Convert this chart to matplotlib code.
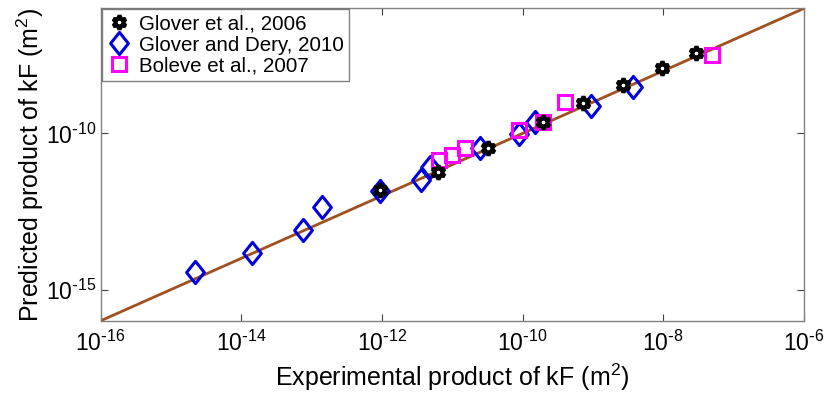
import numpy as np
import matplotlib
matplotlib.use('Agg')
import matplotlib.pyplot as plt
from matplotlib.path import Path
from matplotlib.ticker import FixedLocator, FuncFormatter, NullLocator

plt.rcParams['font.family'] = ['Liberation Sans', 'DejaVu Sans']
plt.rcParams['mathtext.default'] = 'regular'
plt.rcParams['axes.unicode_minus'] = False

# Glover et al., 2006
glover06_x = [9.3e-13, 6.3e-12, 3.2e-11, 1.95e-10, 7.2e-10, 2.7e-9, 9.5e-9, 2.95e-8]
glover06_y = [1.55e-12, 5.9e-12, 3.5e-11, 2.3e-10, 9.1e-10, 3.5e-9, 1.2e-8, 3.8e-8]

# Glover and Dery, 2010
dery_x = [2.2e-15, 1.4e-14, 7.6e-14, 1.4e-13, 9.3e-13, 3.6e-12, 4.8e-12,
          2.5e-11, 8.9e-11, 1.5e-10, 9.5e-10, 3.7e-9]
dery_y = [3.7e-15, 1.5e-14, 7.9e-14, 4.3e-13, 1.4e-12, 3.1e-12, 8.5e-12,
          3.5e-11, 9.5e-11, 2.3e-10, 7.6e-10, 3.1e-9]

# Boleve et al., 2007
boleve_x = [6.5e-12, 9.8e-12, 1.5e-11, 8.9e-11, 1.95e-10, 4.0e-10, 5.0e-8]
boleve_y = [1.4e-11, 2.1e-11, 3.3e-11, 1.3e-10, 2.3e-10, 1.0e-9, 3.2e-8]

lims = [1e-16, 1e-6]
xticks = [1e-16, 1e-14, 1e-12, 1e-10, 1e-8, 1e-6]
yticks = [1e-15, 1e-10]

# slightly tall diamond, like the matlab one
diamond = Path([(0, 1), (0.8, 0), (0, -1), (-0.8, 0), (0, 1)],
               [Path.MOVETO, Path.LINETO, Path.LINETO, Path.LINETO, Path.CLOSEPOLY])

fig = plt.figure(figsize=(8.25, 4.0), dpi=100)
ax = fig.add_axes([0.122, 0.198, 0.8525, 0.781])

# 1:1 line
ax.plot(lims, lims, color='#a0501e', lw=2, zorder=1)

ax.plot(glover06_x, glover06_y, ls='none', marker=(6, 1, 0), ms=10,
        mfc='white', mec='black', mew=3, label='Glover et al., 2006', zorder=3)
ax.plot(dery_x, dery_y, ls='none', marker=diamond, ms=16,
        mfc='none', mec='#0000e0', mew=2.2, label='Glover and Dery, 2010', zorder=2)
ax.plot(boleve_x, boleve_y, ls='none', marker='s', ms=10,
        mfc='none', mec='#ff00ff', mew=2.2, label='Boleve et al., 2007', zorder=2)

ax.set_xscale('log')
ax.set_yscale('log')
ax.set_xlim(lims)
ax.set_ylim(lims)

# plain hyphen in the exponent
fmt = FuncFormatter(lambda v, p: r'$10^{\text{-}%d}$' % abs(round(np.log10(v))))
ax.xaxis.set_major_locator(FixedLocator(xticks))
ax.yaxis.set_major_locator(FixedLocator(yticks))
ax.xaxis.set_minor_locator(NullLocator())
ax.yaxis.set_minor_locator(NullLocator())
ax.xaxis.set_major_formatter(fmt)
ax.yaxis.set_major_formatter(fmt)
ax.tick_params(direction='in', length=5, width=0.8, color='#404040',
               top=True, right=True, labelsize=16.5)
ax.tick_params(axis='x', pad=7)
ax.tick_params(axis='y', pad=3)

for s in ax.spines.values():
    s.set_color('#808080')
    s.set_linewidth(1.0)

ax.set_xlabel('Experimental product of kF (m$^2$)', fontsize=18, labelpad=4)
ax.set_ylabel('Predicted product of kF (m$^2$)', fontsize=18, labelpad=0)

leg = ax.legend(loc='upper left', fontsize=14.8, frameon=True, fancybox=False,
                edgecolor='#606060', borderaxespad=0.05, handletextpad=0.35,
                borderpad=0.25, labelspacing=0.1, handlelength=1.2)
leg.get_frame().set_linewidth(1.0)

fig.savefig('out.png', dpi=100)
